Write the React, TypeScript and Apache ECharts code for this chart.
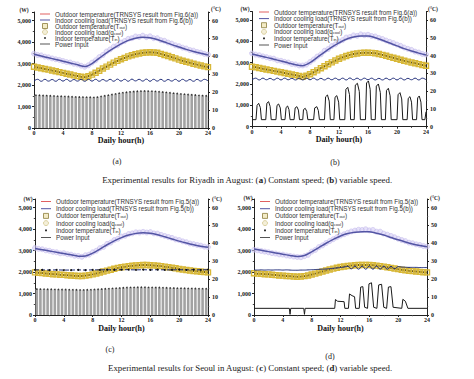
import React, { useEffect, useRef } from 'react';
import * as echarts from 'echarts';

const SERIF = '"Liberation Serif", "DejaVu Serif", serif';
const SANS = '"Liberation Sans", "DejaVu Sans", sans-serif';

// x positions
const hourX = Array.from({ length: 25 }, (_, i) => i);
const halfX = Array.from({ length: 49 }, (_, i) => i / 2);
const barX = Array.from({ length: 48 }, (_, i) => i / 2 + 0.25);

const xTicks = [0, 4, 8, 12, 16, 20, 24];

// ---------- (a) Riyadh, constant speed ----------
const coolModelA = [3430, 3350, 3270, 3190, 3110, 3030, 2940, 2860, 3000, 3250, 3500, 3720, 3920, 4080, 4180, 4220, 4200, 4120, 4000, 3880, 3770, 3660, 3560, 3480, 3400];
const coolMeasA = [3460, 3400, 3380, 3320, 3290, 3240, 3200, 3170, 3120, 3070, 3050, 2990, 2960, 2900, 2850, 2920, 3040, 3150, 3300, 3400, 3560, 3660, 3790, 3850, 3980, 4050, 4150, 4180, 4260, 4240, 4300, 4230, 4270, 4180, 4180, 4090, 4060, 3980, 3930, 3850, 3810, 3740, 3700, 3630, 3600, 3540, 3510, 3450, 3420];
const outModelA = [34.2, 33.4, 32.6, 31.7, 30.8, 29.9, 29.0, 28.3, 29.8, 32.0, 34.3, 36.5, 38.4, 40.0, 41.2, 42.0, 42.3, 42.0, 40.8, 39.5, 38.2, 37.0, 35.9, 34.9, 34.0];
const outMeasA = [34.2, 33.8, 33.4, 33.0, 32.6, 32.1, 31.7, 31.2, 30.8, 30.3, 29.9, 29.4, 29.0, 28.6, 28.3, 28.9, 29.8, 30.9, 32.0, 33.2, 34.3, 35.4, 36.5, 37.5, 38.4, 39.2, 40.0, 40.6, 41.2, 41.6, 42.0, 42.2, 42.3, 42.2, 42.0, 41.4, 40.8, 40.2, 39.5, 38.9, 38.2, 37.6, 37.0, 36.5, 35.9, 35.4, 34.9, 34.4, 34.0];
const indoorA = [26.2, 27.2, 26.1, 27.2, 26.2, 27.1, 26.1, 27.2, 26.2, 27.2, 26.1, 27.1, 26.2, 27.2, 26.1, 27.2, 26.2, 27.2, 26.1, 27.1, 26.2, 27.2, 26.1, 27.3, 26.2, 27.2, 26.1, 27.3, 26.3, 27.2, 26.2, 27.3, 26.1, 27.2, 26.2, 27.2, 26.1, 27.1, 26.2, 27.2, 26.1, 27.2, 26.2, 27.1, 26.1, 27.2, 26.2, 27.2, 26.3];
const powerBarsA = [1530, 1525, 1515, 1510, 1500, 1495, 1485, 1480, 1470, 1465, 1455, 1450, 1445, 1440, 1435, 1430, 1425, 1440, 1470, 1500, 1530, 1560, 1590, 1620, 1645, 1665, 1685, 1700, 1710, 1720, 1725, 1720, 1715, 1705, 1690, 1675, 1660, 1640, 1620, 1605, 1590, 1575, 1560, 1550, 1535, 1520, 1510, 1500];

// ---------- (b) Riyadh, variable speed ----------
const coolModelB = [3410, 3330, 3250, 3160, 3080, 2990, 2900, 2860, 3000, 3250, 3500, 3730, 3930, 4100, 4200, 4250, 4250, 4170, 4050, 3920, 3790, 3660, 3550, 3450, 3360];
const coolMeasB = [3440, 3380, 3350, 3300, 3260, 3210, 3190, 3110, 3090, 3040, 3010, 2940, 2920, 2870, 2870, 2910, 3030, 3150, 3290, 3390, 3560, 3640, 3780, 3860, 3990, 4060, 4180, 4200, 4280, 4260, 4330, 4290, 4310, 4250, 4230, 4160, 4110, 4040, 3980, 3920, 3850, 3790, 3710, 3650, 3600, 3520, 3480, 3410, 3380];
const outModelB = [33.7, 33.0, 32.2, 31.4, 30.6, 29.8, 29.0, 28.0, 29.5, 31.7, 34.0, 36.2, 38.2, 39.8, 40.9, 41.5, 41.6, 41.3, 40.4, 39.3, 38.2, 37.1, 36.1, 35.2, 34.3];
const outMeasB = [33.7, 33.4, 33.0, 32.6, 32.2, 31.8, 31.4, 31.0, 30.6, 30.2, 29.8, 29.4, 29.0, 28.5, 28.0, 28.7, 29.5, 30.6, 31.7, 32.9, 34.0, 35.1, 36.2, 37.2, 38.2, 39.0, 39.8, 40.4, 40.9, 41.2, 41.5, 41.6, 41.6, 41.5, 41.3, 40.9, 40.4, 39.9, 39.3, 38.8, 38.2, 37.7, 37.1, 36.6, 36.1, 35.7, 35.2, 34.7, 34.3];
const indoorB = [26.3, 27.3, 26.3, 27.3, 26.4, 27.2, 26.3, 27.3, 26.3, 27.3, 26.4, 27.2, 26.3, 27.3, 26.3, 27.3, 26.4, 27.3, 26.3, 27.2, 26.3, 27.3, 26.4, 27.3, 26.3, 27.3, 26.3, 27.4, 26.4, 27.3, 26.3, 27.3, 26.4, 27.3, 26.3, 27.2, 26.3, 27.3, 26.4, 27.3, 26.3, 27.3, 26.3, 27.2, 26.4, 27.3, 26.3, 27.3, 26.4];
const powerLineB: number[][] = [
  [0, 330], [0.55, 330], [0.7, 1000], [0.92, 1096], [1.15, 900], [1.3, 330],
  [1.9, 330], [2.05, 1100], [2.29, 1174], [2.5, 950], [2.65, 330],
  [3.3, 330], [3.45, 1000], [3.67, 1065], [3.9, 880], [4.05, 330],
  [4.55, 330], [4.7, 900], [4.91, 971], [5.1, 800], [5.25, 330],
  [5.8, 330], [5.95, 880], [6.19, 940], [6.4, 780], [6.55, 330],
  [7.0, 330], [7.1, 800], [7.34, 862], [7.55, 720], [7.7, 330],
  [8.5, 330], [8.65, 880], [8.94, 940], [9.15, 760], [9.3, 330],
  [10.0, 330], [10.15, 1400], [10.41, 1487], [10.65, 1200], [10.8, 330],
  [11.3, 330], [11.45, 1380], [11.7, 1456], [11.95, 1150], [12.1, 330],
  [12.8, 330], [12.95, 1750], [13.21, 1846], [13.45, 1500], [13.6, 330],
  [14.1, 330], [14.25, 1950], [14.54, 2034], [14.8, 1650], [14.95, 330],
  [15.65, 330], [15.8, 2050], [16.06, 2143], [16.3, 1750], [16.45, 330],
  [17.0, 330], [17.15, 1900], [17.43, 2003], [17.7, 1600], [17.85, 330],
  [18.4, 330], [18.55, 1700], [18.81, 1800], [19.05, 1450], [19.2, 330],
  [20.0, 330], [20.15, 1500], [20.41, 1597], [20.65, 1300], [20.8, 330],
  [21.4, 330], [21.55, 1330], [21.79, 1409], [22.0, 1150], [22.15, 330],
  [22.7, 330], [22.85, 1350], [23.07, 1440], [23.3, 1150], [23.45, 330],
  [23.85, 330], [24, 700],
];

// ---------- (c) Seoul, constant speed ----------
const coolModelC = [3100, 3040, 2980, 2920, 2860, 2800, 2740, 2750, 2880, 3070, 3270, 3450, 3600, 3720, 3800, 3830, 3810, 3740, 3640, 3540, 3440, 3350, 3270, 3200, 3150];
const coolMeasC = [3120, 3080, 3060, 3010, 2990, 2940, 2920, 2870, 2880, 2830, 2810, 2760, 2750, 2710, 2780, 2810, 2920, 2990, 3110, 3170, 3310, 3370, 3490, 3550, 3650, 3690, 3770, 3800, 3850, 3840, 3870, 3840, 3860, 3800, 3790, 3730, 3680, 3630, 3590, 3520, 3490, 3430, 3390, 3330, 3300, 3260, 3230, 3180, 3160];
const outModelC = [23.8, 23.4, 23.0, 22.7, 22.4, 22.1, 21.8, 22.0, 22.7, 23.7, 24.8, 25.8, 26.7, 27.3, 27.7, 27.9, 27.8, 27.5, 27.0, 26.4, 25.7, 25.1, 24.6, 24.2, 23.8];
const outMeasC = [23.8, 23.6, 23.4, 23.2, 23.0, 22.8, 22.7, 22.5, 22.4, 22.2, 22.1, 21.9, 21.8, 21.8, 22.0, 22.3, 22.7, 23.2, 23.7, 24.3, 24.8, 25.3, 25.8, 26.3, 26.7, 27.0, 27.3, 27.5, 27.7, 27.8, 27.9, 27.9, 27.8, 27.7, 27.5, 27.3, 27.0, 26.7, 26.4, 26.1, 25.7, 25.4, 25.1, 24.9, 24.6, 24.4, 24.2, 24.0, 23.8];
const indoorC = [25.2, 25.2, 25.1, 25.2, 25.1, 25.1, 25.2, 25.1, 25.2, 25.2, 25.3, 25.2, 25.3, 25.3, 25.2, 25.3, 25.2, 25.3, 25.2, 25.2, 25.3, 25.2, 25.3, 25.2, 25.3];
const powerBarsC = [1210, 1208, 1205, 1200, 1198, 1195, 1190, 1188, 1185, 1180, 1178, 1175, 1170, 1172, 1175, 1180, 1190, 1200, 1210, 1220, 1230, 1240, 1250, 1260, 1270, 1278, 1285, 1288, 1290, 1290, 1290, 1288, 1285, 1282, 1278, 1272, 1268, 1262, 1258, 1252, 1248, 1244, 1240, 1236, 1232, 1230, 1228, 1225];

// ---------- (d) Seoul, variable speed ----------
const coolModelD = [3070, 3010, 2950, 2890, 2830, 2770, 2720, 2770, 2940, 3140, 3340, 3520, 3680, 3790, 3850, 3880, 3870, 3810, 3720, 3610, 3500, 3400, 3310, 3240, 3180];
const coolMeasD = [3030, 3010, 2980, 2950, 2920, 2880, 2860, 2820, 2810, 2770, 2750, 2720, 2700, 2690, 2740, 2800, 2950, 3030, 3160, 3240, 3350, 3440, 3530, 3620, 3700, 3760, 3830, 3890, 3930, 3970, 3960, 3990, 3940, 3960, 3880, 3880, 3790, 3740, 3680, 3620, 3550, 3490, 3440, 3370, 3340, 3290, 3260, 3210, 3180];
const outModelD = [23.3, 23.0, 22.7, 22.3, 22.0, 21.7, 21.4, 21.7, 22.6, 23.7, 24.9, 25.9, 26.8, 27.4, 27.8, 27.9, 27.9, 27.6, 27.0, 26.3, 25.6, 25.0, 24.5, 24.1, 23.8];
const outMeasD = [23.3, 23.1, 23.0, 22.8, 22.7, 22.5, 22.3, 22.1, 22.0, 21.8, 21.7, 21.5, 21.4, 21.5, 21.7, 22.1, 22.6, 23.1, 23.7, 24.3, 24.9, 25.4, 25.9, 26.4, 26.8, 27.1, 27.4, 27.6, 27.8, 27.9, 27.9, 28.0, 27.9, 27.8, 27.6, 27.3, 27.0, 26.7, 26.3, 26.0, 25.6, 25.3, 25.0, 24.7, 24.5, 24.3, 24.1, 23.9, 23.8];
const indoorD = [25.1, 25.1, 25.2, 25.1, 25.2, 25.1, 25.2, 25.2, 25.1, 25.2, 25.1, 25.0, 25.0, 25.1, 25.1, 25.2, 25.3, 25.4, 25.5, 25.6, 25.7, 25.9, 26.1, 26.3, 26.5, 26.8, 27.2, 25.8, 27.3, 25.6, 27.3, 25.6, 27.3, 25.6, 27.3, 25.6, 27.3, 25.6, 27.2, 25.8, 27.0, 26.8, 26.7, 26.6, 26.6, 26.6, 26.5, 26.5, 26.5];
const powerLineD: number[][] = [
  [0, 310], [4.9, 310], [5.0, 30], [5.1, 310], [6.9, 310], [7.0, 30], [7.1, 310],
  [11.2, 310], [11.3, 720], [11.6, 640], [12.5, 620], [12.6, 310],
  [13.1, 310], [13.25, 980], [13.6, 900], [13.95, 850], [14.1, 310],
  [14.6, 310], [14.8, 1300], [15.1, 1320], [15.35, 360],
  [15.75, 310], [15.95, 1450], [16.3, 1500], [16.6, 360],
  [17.05, 310], [17.3, 1400], [17.7, 1430], [18.0, 360],
  [18.4, 310], [18.65, 1300], [19.0, 1320], [19.3, 360],
  [20.5, 310], [20.65, 730], [21.0, 640], [21.35, 310], [24, 310],
];

const N_OUT_MEAS = 'Outdoor temperature(T_out)';
const N_COOL_MEAS = 'Indoor cooling load(q_cool)';
const N_INDOOR = 'Indoor temperature(T_in)';
const N_POWER = 'Power Input';

function pair(xs: number[], ys: number[]) {
  return ys.map((v, i) => [xs[i], v]);
}

const SQUARE = 'path://M0 0H10V10H0Z';
const DOT = 'path://M0 0M10 10M3.3 3.3H6.7V6.7H3.3Z';
const LINE_ICON = 'path://M0 0H20V2H0Z';

const C_BLUE = '#5254a3';
const C_RED = '#e06060';

const panels = [
  {
    fig: '6', grid: { left: 34, top: 12, width: 174, height: 116 },
    coolModel: coolModelA, coolMeas: coolMeasA, outModel: outModelA, outMeas: outMeasA,
    indoor: pair(halfX, indoorA), indoorDashed: false, bars: powerBarsA, powerLine: null as null | number[][],
    legend: { left: 40, top: 11, gap: 0 }, nameGap: 8,
    unitW: [24, 9.5], unitC: [216, 8.5],
  },
  {
    fig: '6', grid: { left: 252, top: 11.5, width: 174, height: 115.2 },
    coolModel: coolModelB, coolMeas: coolMeasB, outModel: outModelB, outMeas: outMeasB,
    indoor: pair(halfX, indoorB), indoorDashed: false, bars: null as null | number[], powerLine: powerLineB,
    legend: { left: 259, top: 9, gap: 0.6 }, nameGap: 9,
    unitW: [245, 9], unitC: [433, 9],
  },
  {
    fig: '5', grid: { left: 35, top: 199, width: 173, height: 116 },
    coolModel: coolModelC, coolMeas: coolMeasC, outModel: outModelC, outMeas: outMeasC,
    indoor: pair(hourX, indoorC), indoorDashed: true, bars: powerBarsC, powerLine: null as null | number[][],
    legend: { left: 41, top: 198.5, gap: 1.2 }, nameGap: 9.5,
    unitW: [28, 199], unitC: [217, 199],
  },
  {
    fig: '5', grid: { left: 254, top: 199, width: 173, height: 116 },
    coolModel: coolModelD, coolMeas: coolMeasD, outModel: outModelD, outMeas: outMeasD,
    indoor: pair(halfX, indoorD), indoorDashed: false, bars: null as null | number[], powerLine: powerLineD,
    legend: { left: 260, top: 198.5, gap: 1.2 }, nameGap: 9.5,
    unitW: [248, 198], unitC: [435, 198],
  },
];

const outModelName = (fig: string) => `Outdoor temperature(TRNSYS result from Fig.${fig}(a))`;
const coolModelName = (fig: string) => `Indoor cooling load(TRNSYS result from Fig.${fig}(b))`;

const axisLabelStyle = { fontSize: 6, fontWeight: 'bold' as const, fontFamily: SERIF, color: '#222' };

function buildOption() {
  const grid = panels.map((p) => ({ ...p.grid, containLabel: false }));
  const xAxis = panels.map((p, i) => ({
    gridIndex: i, type: 'value', min: 0, max: 24, interval: 4,
    axisLine: { show: true, onZero: false, lineStyle: { color: '#222', width: 1 } },
    axisTick: { show: true, length: 2, lineStyle: { color: '#222' } },
    minorTick: { show: true, splitNumber: 2, length: 1.2, lineStyle: { color: '#444' } },
    axisLabel: { ...axisLabelStyle, margin: 2, formatter: (v: number) => (xTicks.includes(v) ? String(v) : '') },
    splitLine: { show: false },
    name: 'Daily hour(h)', nameLocation: 'middle', nameGap: p.nameGap,
    nameTextStyle: { fontSize: 8, fontWeight: 'bold', fontFamily: SERIF, color: '#111' },
  }));
  const yAxis: any[] = [];
  panels.forEach((p, i) => {
    yAxis.push({
      gridIndex: i, type: 'value', position: 'left', min: 0, max: 5400, interval: 1000,
      axisLine: { show: true, onZero: false, lineStyle: { color: '#222' } },
      axisTick: { show: true, length: 2, lineStyle: { color: '#222' } },
      minorTick: { show: true, splitNumber: 2, length: 1.2, lineStyle: { color: '#444' } },
      axisLabel: { ...axisLabelStyle, margin: 3, showMaxLabel: false, formatter: (v: number) => (v % 1000 === 0 ? v.toLocaleString('en-US') : '') },
      splitLine: { show: false },
    });
    yAxis.push({
      gridIndex: i, type: 'value', position: 'right', min: 0, max: 64.8, interval: 10,
      axisLine: { show: true, onZero: false, lineStyle: { color: '#222' } },
      axisTick: { show: true, length: 2, lineStyle: { color: '#222' } },
      minorTick: { show: true, splitNumber: 2, length: 1.2, lineStyle: { color: '#444' } },
      axisLabel: { ...axisLabelStyle, margin: 4, showMaxLabel: false, formatter: (v: number) => (Math.abs(v % 10) < 1e-9 ? String(v) : '') },
      splitLine: { show: false },
    });
  });

  const legend = panels.map((p) => ({
    orient: 'vertical', left: p.legend.left, top: p.legend.top, padding: 0,
    itemWidth: 10, itemHeight: 5, itemGap: p.legend.gap, selectedMode: false,
    formatter: (name: string) => name.replace(/\(([Tq])_(\w+)\)/, '($1{sub|$2})'),
    textStyle: {
      fontSize: 6.3, fontFamily: SANS, color: '#333', lineHeight: 6,
      rich: { sub: { fontSize: 4, fontFamily: SANS, color: '#333', lineHeight: 6, padding: [2, 0, 0, 0] } },
    },
    data: [
      { name: outModelName(p.fig), icon: LINE_ICON, itemStyle: { color: C_RED, borderWidth: 0 } },
      { name: coolModelName(p.fig), icon: LINE_ICON, itemStyle: { color: C_BLUE, borderWidth: 0 } },
      { name: N_OUT_MEAS, icon: SQUARE, itemStyle: { color: '#f3ebc6', borderColor: '#8c7d3c', borderWidth: 0.8 } },
      { name: N_COOL_MEAS, icon: 'circle', itemStyle: { color: '#f1ebcf', borderColor: '#c9bb78', borderWidth: 0.8 } },
      { name: N_INDOOR, icon: DOT, itemStyle: { color: '#111', borderWidth: 0 } },
      { name: N_POWER, icon: LINE_ICON, itemStyle: { color: '#555', borderWidth: 0 } },
    ],
  }));

  const series: any[] = [];
  panels.forEach((p, i) => {
    const xi = i, yl = 2 * i, yr = 2 * i + 1;
    if (p.bars) {
      series.push({
        type: 'bar', name: N_POWER, xAxisIndex: xi, yAxisIndex: yl,
        data: pair(barX, p.bars), barWidth: 2.6, itemStyle: { color: '#a2a2a2' }, z: 1,
      });
      series.push({
        type: 'scatter', name: 'power-top-' + i, xAxisIndex: xi, yAxisIndex: yl,
        data: pair(barX, p.bars), symbolSize: 1.6, itemStyle: { color: '#111' }, z: 2,
      });
    }
    if (p.powerLine) {
      series.push({
        type: 'line', name: N_POWER, xAxisIndex: xi, yAxisIndex: yl, data: p.powerLine,
        symbol: 'none', lineStyle: { color: '#1a1a1a', width: 1 }, itemStyle: { color: '#1a1a1a' }, z: 2,
      });
    }
    series.push({
      type: 'scatter', name: N_COOL_MEAS, xAxisIndex: xi, yAxisIndex: yl,
      data: pair(halfX, p.coolMeas), symbol: 'circle', symbolSize: 5,
      itemStyle: { color: 'rgba(214,207,245,0.75)', borderColor: '#b9afe8', borderWidth: 0.6 }, z: 3,
    });
    series.push({
      type: 'line', name: coolModelName(p.fig), xAxisIndex: xi, yAxisIndex: yl,
      data: pair(hourX, p.coolModel), symbol: 'none', smooth: 0.3,
      lineStyle: { color: C_BLUE, width: 1.5 }, itemStyle: { color: C_BLUE }, z: 4,
    });
    series.push({
      type: 'line', name: outModelName(p.fig), xAxisIndex: xi, yAxisIndex: yr,
      data: pair(hourX, p.outModel), symbol: 'none', smooth: 0.3,
      lineStyle: { color: C_RED, width: 1 }, itemStyle: { color: C_RED }, z: 4,
    });
    series.push({
      type: 'line', name: N_OUT_MEAS, xAxisIndex: xi, yAxisIndex: yr,
      data: pair(halfX, p.outMeas), symbol: 'rect', symbolSize: 5, showSymbol: true,
      lineStyle: { color: '#5a4a0c', width: 2 },
      itemStyle: { color: 'rgba(0,0,0,0)', borderColor: '#d8b838', borderWidth: 1.4 }, z: 5,
    });
    series.push({
      type: 'line', name: N_INDOOR, xAxisIndex: xi, yAxisIndex: yr,
      data: p.indoor, smooth: p.indoorDashed ? false : 0.5,
      symbol: 'circle', symbolSize: p.indoorDashed ? 2 : 0, showSymbol: p.indoorDashed,
      lineStyle: { color: '#1d2a78', width: 1, type: p.indoorDashed ? 'dashed' : 'solid' },
      itemStyle: { color: '#111' }, z: 6,
    });
  });

  const graphic: any[] = [];
  const txt = (text: string, x: number, y: number, size: number, weight: string, family: string, align = 'center', rich?: any) => ({
    type: 'text', x, y, silent: true,
    style: {
      text, fontSize: size, fontWeight: weight, fontFamily: family, fill: '#222',
      align, verticalAlign: 'middle', textAlign: align, textVerticalAlign: 'middle', rich,
    },
  });
  panels.forEach((p) => {
    graphic.push(txt('(W)', p.unitW[0], p.unitW[1], 5.5, 'bold', SERIF));
    graphic.push(txt('(°C)', p.unitC[0], p.unitC[1], 5.5, 'bold', SERIF));
  });
  graphic.push(txt('(a)', 117, 161, 8, 'normal', SERIF));
  graphic.push(txt('(b)', 335, 162, 8, 'normal', SERIF));
  graphic.push(txt('(c)', 110, 349, 8, 'normal', SERIF));
  graphic.push(txt('(d)', 330, 356, 8, 'normal', SERIF));
  const capRich = { b: { fontSize: 8.8, fontFamily: SERIF, fontWeight: 'bold', fill: '#222' } };
  graphic.push(txt('Experimental results for Riyadh in August: ({b|a}) Constant speed; ({b|b}) variable speed.', 247, 180, 8.8, 'normal', SERIF, 'center', capRich));
  graphic.push(txt('Experimental results for Seoul in August: ({b|c}) Constant speed; ({b|d}) variable speed.', 250, 368, 8.8, 'normal', SERIF, 'center', capRich));

  return {
    animation: false,
    backgroundColor: '#ffffff',
    grid, xAxis, yAxis, legend, series, graphic,
  };
}

export default function App() {
  const ref = useRef<HTMLDivElement>(null);
  useEffect(() => {
    if (!ref.current) return;
    const chart = echarts.init(ref.current, undefined, { renderer: 'svg' });
    chart.setOption(buildOption() as any);
    return () => chart.dispose();
  }, []);
  return <div ref={ref} style={{ position: 'fixed', left: 0, top: 0, width: 474, height: 379, background: '#fff' }} />;
}
